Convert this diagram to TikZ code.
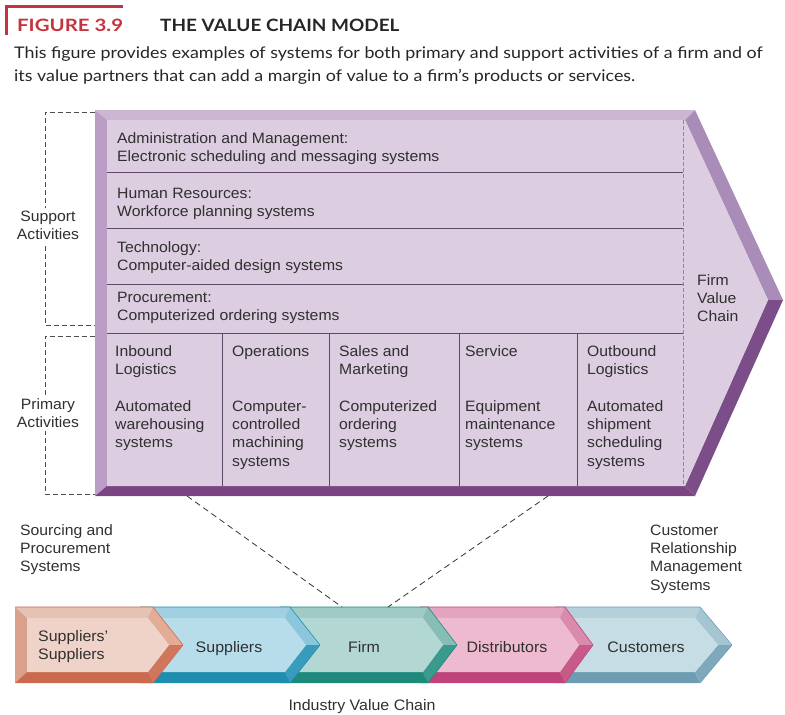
\documentclass[tikz,border=0pt]{standalone}
\usepackage{fontspec}
\setmainfont[FakeStretch=1.05]{Liberation Sans}
\newfontfamily\headfont[FakeStretch=1.115]{Lato}
\newfontfamily\fignumfont[FakeStretch=1.2]{Lato}
\usetikzlibrary{calc}

% palette
\definecolor{figred}{HTML}{C3343E}
\definecolor{inktext}{HTML}{303030}
\definecolor{pface}{HTML}{DCCDE1}
\definecolor{ptop}{HTML}{CBB6D3}
\definecolor{pleft}{HTML}{B99DC4}
\definecolor{pbottom}{HTML}{7A4483}
\definecolor{pupper}{HTML}{A98CB7}
\definecolor{plower}{HTML}{7B4D89}
\definecolor{prule}{HTML}{5E4A66}
% industry chain colours: face, top, left, bottom, upper-right, lower-right
\definecolor{ssface}{HTML}{F0D3C8}\definecolor{sstop}{HTML}{E6C2B3}\definecolor{ssleft}{HTML}{D9A08C}
\definecolor{ssbot}{HTML}{CC6A50}\definecolor{ssup}{HTML}{E2AC95}\definecolor{sslow}{HTML}{D0765C}
\definecolor{suface}{HTML}{B7DDEB}\definecolor{sutop}{HTML}{A2D0E3}\definecolor{suleft}{HTML}{8CC6DC}
\definecolor{subot}{HTML}{1F8DB0}\definecolor{suup}{HTML}{8CC6DC}\definecolor{sulow}{HTML}{3A9CBD}
\definecolor{fiface}{HTML}{B3D8D4}\definecolor{fitop}{HTML}{9FCAC6}\definecolor{fileft}{HTML}{86BDB6}
\definecolor{fibot}{HTML}{1E8A7C}\definecolor{fiup}{HTML}{86BDB6}\definecolor{filow}{HTML}{3A9A8E}
\definecolor{diface}{HTML}{EDBACF}\definecolor{ditop}{HTML}{E2A4BE}\definecolor{dileft}{HTML}{D98AAD}
\definecolor{dibot}{HTML}{C0447A}\definecolor{diup}{HTML}{D98AAD}\definecolor{dilow}{HTML}{C85A8A}
\definecolor{cuface}{HTML}{C7DDE5}\definecolor{cutop}{HTML}{B5D0DA}\definecolor{culeft}{HTML}{A5C5D2}
\definecolor{cubot}{HTML}{6E9CB2}\definecolor{cuup}{HTML}{A5C5D2}\definecolor{culow}{HTML}{7EA8BC}

% multi-line nodes are placed by the baseline of their last line
\tikzset{
  paneltext/.style={anchor=base west, inner sep=0pt, align=left, text=inktext,
    font=\fontsize{15}{18.4}\selectfont},
  sidelabel/.style={anchor=base west, inner sep=0pt, align=left, text=inktext,
    font=\fontsize{15}{18.4}\selectfont},
  bracketlabel/.style={anchor=base, inner xsep=1pt, inner ysep=3pt, align=center, fill=white,
    text=inktext, font=\fontsize{15}{18.4}\selectfont},
  chevtext/.style={anchor=base, inner sep=0pt, align=center, text=inktext,
    font=\fontsize{15.2}{18.4}\selectfont},
  bracket/.style={draw=black!70, line width=0.8pt, dash pattern=on 5pt off 3pt},
  linkline/.style={draw=black!80, line width=0.8pt, dash pattern=on 6pt off 4pt},
  rowrule/.style={draw=prule, line width=0.8pt},
}

% one bevelled chevron of the industry chain:
% #1 left x, #2 shoulder x, #3 tip x, #4 face, #5 top, #6 left, #7 bottom, #8 upper right, #9 lower right
\newcommand\vcchev[9]{%
  \fill[#5] (#1,607) -- (#2,607) -- (#2-5,618) -- (#1+12,618) -- cycle;
  \fill[#6] (#1,607) -- (#1+12,618) -- (#1+12,672) -- (#1,683) -- cycle;
  \fill[#7] (#1,683) -- (#2,683) -- (#2-5,672) -- (#1+12,672) -- cycle;
  \fill[#8] (#2,607) -- (#3,645) -- (#3-14,645) -- (#2-5,618) -- cycle;
  \fill[#9] (#3,645) -- (#2,683) -- (#2-5,672) -- (#3-14,645) -- cycle;
  \fill[#4] (#1+12,618) -- (#2-5,618) -- (#3-14,645) -- (#2-5,672) -- (#1+12,672) -- cycle;
  \draw[#7, line width=0.6pt, line join=miter] (#1,607) -- (#2,607) -- (#3,645) -- (#2,683);
}

\begin{document}
\begin{tikzpicture}[x=1pt, y=-1pt]
\useasboundingbox (0,0) rectangle (785,715);

% ---- heading ----
\fill[figred] (5,5) rectangle (123,7.5);
\fill[figred] (5,5) rectangle (8,35);
\node[anchor=base west, inner sep=0pt, text=figred, font=\fignumfont\bfseries\fontsize{17}{20}\selectfont]
  (fignum) at (17,31) {FIGURE 3.9};
\node[anchor=base west, inner sep=0pt, text=black!85, font=\headfont\bfseries\fontsize{17}{20}\selectfont]
  (figtitle) at (160,31) {THE VALUE CHAIN MODEL};
\node[anchor=base west, inner sep=0pt, text=black!85, font=\headfont\fontsize{16}{20}\selectfont]
  (caption1) at (14,58) {This figure provides examples of systems for both primary and support activities of a firm and of};
\node[anchor=base west, inner sep=0pt, text=black!85, font=\headfont\fontsize{16}{20}\selectfont]
  (caption2) at (14,81) {its value partners that can add a margin of value to a firm’s products or services.};

% ---- firm value chain arrow ----
\coordinate (O1) at (95,110);  \coordinate (O2) at (695,110);
\coordinate (OT) at (783,300); \coordinate (O3) at (695,496);
\coordinate (O4) at (95,496);
\coordinate (I1) at (107,120); \coordinate (I2) at (685,120);
\coordinate (IT) at (768,300); \coordinate (I3) at (685,486);
\coordinate (I4) at (107,486);
\fill[ptop] (O1) -- (O2) -- (I2) -- (I1) -- cycle;
\fill[pleft] (O1) -- (I1) -- (I4) -- (O4) -- cycle;
\fill[pbottom] (O4) -- (O3) -- (I3) -- (I4) -- cycle;
\fill[pupper] (O2) -- (OT) -- (IT) -- (I2) -- cycle;
\fill[plower] (OT) -- (O3) -- (I3) -- (IT) -- cycle;
\fill[pface] (I1) -- (I2) -- (IT) -- (I3) -- (I4) -- cycle;

% rows of support activities, columns of primary activities
\foreach \yy in {172,228,284,333} \draw[rowrule] (107,\yy) -- (683,\yy);
\foreach \xx in {222,329,459,577} \draw[rowrule] (\xx,333) -- (\xx,486);
\draw[draw=black!45, line width=0.7pt, dash pattern=on 4pt off 2pt] (683,120) -- (683,486);

\node[paneltext] (admin) at (117,161.4) {Administration and Management:\\Electronic scheduling and messaging systems};
\node[paneltext] (hr) at (117,216.4) {Human Resources:\\Workforce planning systems};
\node[paneltext] (tech) at (117,270.4) {Technology:\\Computer-aided design systems};
\node[paneltext] (proc) at (117,320.4) {Procurement:\\Computerized ordering systems};

\node[paneltext] (inbound) at (115,374.4) {Inbound\\Logistics};
\node[paneltext] (inboundsys) at (115,447.8) {Automated\\warehousing\\systems};
\node[paneltext] (ops) at (232,356) {Operations};
\node[paneltext] (opssys) at (232,466.2) {Computer-\\controlled\\machining\\systems};
\node[paneltext] (sales) at (339,374.4) {Sales and\\Marketing};
\node[paneltext] (salessys) at (339,447.8) {Computerized\\ordering\\systems};
\node[paneltext] (service) at (465,356) {Service};
\node[paneltext] (servicesys) at (465,447.8) {Equipment\\maintenance\\systems};
\node[paneltext] (outbound) at (587,374.4) {Outbound\\Logistics};
\node[paneltext] (outboundsys) at (587,466.2) {Automated\\shipment\\scheduling\\systems};

\node[paneltext] (firmvc) at (697,321.8) {Firm\\Value\\Chain};

% ---- activity brackets ----
\coordinate (sb1) at (95,112); \coordinate (sb2) at (45,112);
\coordinate (sb3) at (45,325); \coordinate (sb4) at (95,325);
\draw[bracket] (sb1) -- (sb2) -- (sb3) -- (sb4);
\coordinate (pb1) at (95,336); \coordinate (pb2) at (45,336);
\coordinate (pb3) at (45,494); \coordinate (pb4) at (95,494);
\draw[bracket] (pb1) -- (pb2) -- (pb3) -- (pb4);
\node[bracketlabel] (support) at (48,239.4) {Support\\Activities};
\node[bracketlabel] (primary) at (48,427.4) {Primary\\Activities};

% ---- industry value chain ----
\vcchev{555}{700}{732}{cuface}{cutop}{culeft}{cubot}{cuup}{culow}
\vcchev{420}{565}{593}{diface}{ditop}{dileft}{dibot}{diup}{dilow}
\vcchev{280}{428}{457}{fiface}{fitop}{fileft}{fibot}{fiup}{filow}
\vcchev{140}{290}{320}{suface}{sutop}{suleft}{subot}{suup}{sulow}
\vcchev{15}{153}{183}{ssface}{sstop}{ssleft}{ssbot}{ssup}{sslow}

\node[anchor=base west, inner sep=0pt, align=left, text=inktext, font=\fontsize{15.2}{18}\selectfont]
  (suppsupp) at (38,659) {Suppliers’\\Suppliers};
\node[chevtext] (suppliers) at (229,652) {Suppliers};
\node[chevtext] (firm) at (364,652) {Firm};
\node[chevtext] (distributors) at (507,652) {Distributors};
\node[chevtext] (customers) at (646,652) {Customers};
\node[chevtext] (industry) at (362,710) {Industry Value Chain};

% ---- links between the firm and the industry chain ----
\coordinate (linkL) at (187,496); \coordinate (linkR) at (548,496);
\coordinate (firmL) at (342,607); \coordinate (firmR) at (388,607);
\draw[linkline] (linkL) -- (firmL);
\draw[linkline] (linkR) -- (firmR);

\node[sidelabel] (sourcing) at (20,571.8) {Sourcing and\\Procurement\\Systems};
\node[sidelabel] (crm) at (650,590.2) {Customer\\Relationship\\Management\\Systems};

\end{tikzpicture}
\end{document}
